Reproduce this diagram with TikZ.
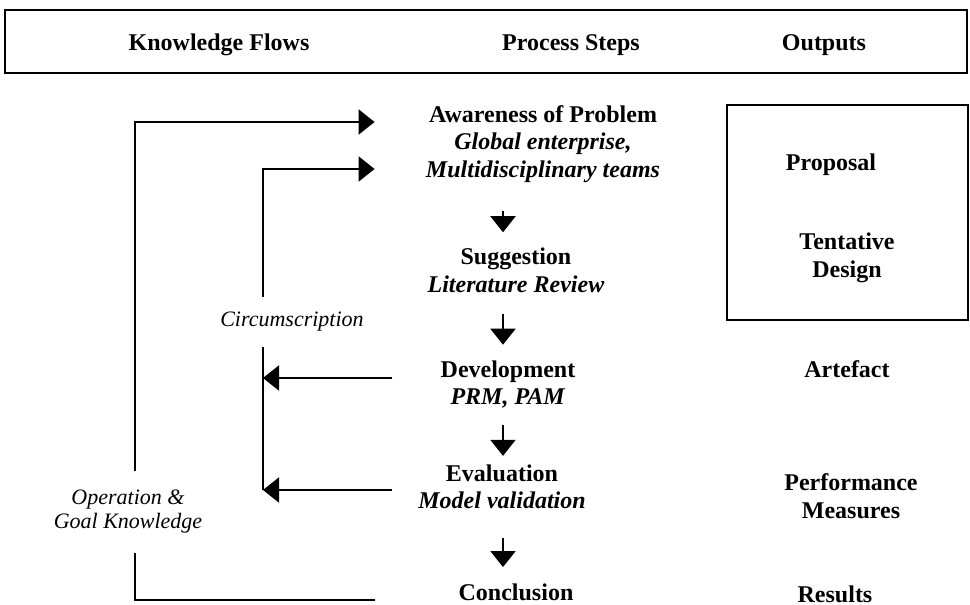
\documentclass[tikz,border=0pt]{standalone}
\usepackage{fontspec}
\setmainfont{Liberation Serif}
\usetikzlibrary{arrows.meta}
\begin{document}
\begin{tikzpicture}[x=0.5pt, y=-0.5pt,
	stepnode/.style={align=center, inner sep=0pt,
		font=\fontsize{12}{13.7}\selectfont\bfseries},
	headnode/.style={anchor=base, inner sep=0pt,
		font=\fontsize{12}{13.7}\selectfont\bfseries},
	flowlabel/.style={align=center, inner xsep=2pt,
		font=\fontsize{11}{12}\selectfont\itshape},
	flowline/.style={line width=1pt},
	flowarrow/.style={line width=1pt, -{Triangle[length=8pt, width=12.5pt]}}]
	\useasboundingbox (0,0) rectangle (970,605);

	\draw (486,41.5) node[draw, line width=1pt,
					 minimum width=481pt,
					 minimum height=31.5pt](header){};
	\draw (219,50) node[headnode](hknow){Knowledge Flows};
	\draw (571,50) node[headnode](hsteps){Process Steps};
	\draw (824,50) node[headnode](houts){Outputs};

	\draw (543,143.9) node[stepnode](aware){Awareness of Problem\\
		\textit{Global enterprise,}\\ \textit{Multidisciplinary teams}};
	\draw (516,270.4) node[stepnode](suggest){Suggestion\\ \textit{Literature Review}};
	\draw (508,384.6) node[stepnode](develop){Development\\ \textit{PRM, PAM}};
	\draw (502,487) node[stepnode](evaluate){Evaluation\\ \textit{Model validation}};
	\draw (516,600) node[stepnode, anchor=base](conclude){Conclusion};

	\draw (847.5,212.5) node[draw, line width=1pt,
					 minimum width=120.5pt,
					 minimum height=107.5pt](outbox){};
	\draw (831,170) node[stepnode, anchor=base](proposal){Proposal};
	\draw (847,258) node[stepnode](tentative){Tentative\\ Design};
	\draw (847,377) node[stepnode, anchor=base](artefact){Artefact};
	\draw (851,496) node[stepnode](measures){Performance\\ Measures};
	\draw (835,602) node[stepnode, anchor=base](results){Results};

	\draw (292,322) node[flowlabel, inner ysep=7.5pt](circ){Circumscription};
	\draw (128,512) node[flowlabel, inner ysep=9.5pt](opgoal){Operation \&\\ Goal Knowledge};

	\coordinate (outerx) at (135,0);
	\coordinate (innerx) at (263,0);
	\coordinate (colx) at (503,0);
	\coordinate (awaretop) at ([yshift=10.95pt]aware.west);
	\coordinate (awaremid) at ([yshift=-12.55pt]aware.west);
	\coordinate (devport) at ([yshift=3.3pt]develop.west);
	\coordinate (evalport) at ([yshift=-1.5pt]evaluate.west);

	\draw [flowarrow, shorten <=13.9pt, shorten >=7.8pt](aware.south -| colx) -- (suggest.north -| colx);
	\draw [flowarrow, shorten <=10.35pt, shorten >=7.8pt](suggest.south -| colx) -- (develop.north -| colx);
	\draw [flowarrow, shorten <=8.2pt, shorten >=4.3pt](develop.south -| colx) -- (evaluate.north -| colx);
	\draw [flowarrow, shorten <=14.35pt, shorten >=7.95pt](evaluate.south -| colx) -- (conclude.north -| colx);

	\draw [flowline, shorten <=41.5pt](conclude.base west) -| (opgoal.south -| outerx);
	\draw [flowarrow, shorten >=25.5pt](opgoal.north -| outerx) |- (awaretop);
	\draw [flowarrow, shorten >=25.5pt](circ.north -| innerx) |- (awaremid);
	\draw [flowline](circ.south -| innerx) -- (evalport -| innerx);
	\draw [flowarrow, shorten <=24pt](devport) -- (devport -| innerx);
	\draw [flowarrow, shorten <=13pt](evalport) -- (evalport -| innerx);
\end{tikzpicture}
\end{document}
